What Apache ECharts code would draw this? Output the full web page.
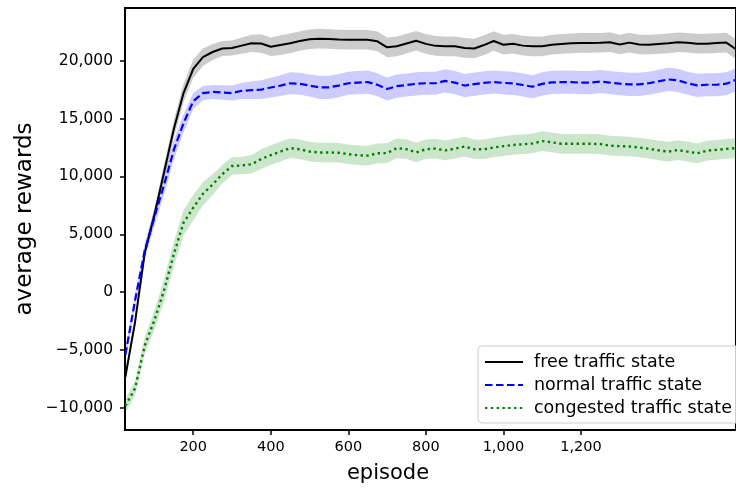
<!DOCTYPE html>
<html>
<head>
<meta charset="utf-8">
<script src="https://cdn.jsdelivr.net/npm/echarts@6/dist/echarts.min.js"></script>
<style>
html, body { margin: 0; padding: 0; background: #fff; }
#chart { width: 736px; height: 488px; }
</style>
</head>
<body>
<div id="chart"></div>
<script>
// episodes (x)
var episodes = [25, 50, 75, 100, 125, 150, 175, 200, 225, 250, 275, 300, 325, 350, 375, 400,
    425, 450, 475, 500, 525, 550, 575, 600, 625, 650, 675, 700, 725, 750, 775, 800,
    825, 850, 875, 900, 925, 950, 975, 1000, 1025, 1050, 1075, 1100, 1125, 1150, 1175, 1200,
    1225, 1250, 1275, 1300, 1325, 1350, 1375, 1400, 1425, 1450, 1475, 1500, 1525, 1550, 1575, 1600];

// average rewards, free traffic state
var freeMean = [-7300, -2570, 3400, 6700, 10400, 14100, 17200, 19300, 20300, 20750, 21050, 21100, 21300, 21500, 21480, 21200,
    21350, 21500, 21700, 21850, 21900, 21870, 21830, 21810, 21810, 21810, 21670, 21150, 21240, 21480, 21720, 21450,
    21280, 21240, 21240, 21100, 21050, 21350, 21700, 21380, 21460, 21300, 21240, 21240, 21380, 21450, 21500, 21530,
    21530, 21550, 21600, 21400, 21560, 21400, 21380, 21440, 21500, 21590, 21550, 21470, 21470, 21520, 21560, 21000];
var freeStd = [300, 350, 450, 550, 650, 750, 800, 800, 750, 700, 650, 650, 700, 750, 800, 800,
    850, 850, 850, 850, 850, 850, 850, 850, 850, 850, 850, 850, 850, 850, 850, 850,
    850, 850, 850, 850, 850, 850, 850, 850, 850, 850, 850, 850, 850, 850, 850, 850,
    850, 850, 850, 850, 850, 850, 850, 850, 850, 850, 850, 850, 850, 850, 850, 850];

// normal traffic state
var normalMean = [-5400, -700, 3600, 6500, 9300, 12300, 14600, 16500, 17200, 17300, 17250, 17200, 17400, 17450, 17500, 17680,
    17850, 18050, 18000, 17850, 17700, 17700, 17850, 18050, 18100, 18150, 17920, 17550, 17800, 17900, 18000, 18050,
    18050, 18250, 18100, 17850, 17980, 18080, 18160, 18080, 18040, 17900, 17750, 18000, 18120, 18150, 18150, 18100,
    18100, 18200, 18100, 18020, 17950, 17950, 18050, 18210, 18380, 18300, 18050, 17870, 17920, 17920, 18010, 18350];
var normalStd = [450, 550, 650, 750, 850, 850, 800, 700, 620, 600, 620, 650, 700, 750, 800, 850,
    900, 950, 950, 950, 1000, 1000, 1000, 1000, 1000, 1000, 1000, 1000, 1000, 1000, 1000, 1000,
    1000, 1000, 1000, 1000, 1000, 1000, 1000, 1000, 1000, 1000, 1000, 1000, 1000, 1000, 1000, 1000,
    1000, 1000, 1000, 1000, 1000, 1000, 1000, 1000, 1000, 1000, 1000, 1000, 1000, 1000, 1000, 1000];

// congested traffic state
var congestedMean = [-9800, -8300, -4600, -2400, 200, 3300, 6000, 7300, 8500, 9300, 10200, 10900, 10950, 11050, 11500, 11850,
    12150, 12450, 12350, 12150, 12070, 12070, 12050, 11920, 11830, 11800, 12000, 12020, 12450, 12350, 12080, 12350,
    12400, 12250, 12400, 12580, 12350, 12350, 12500, 12620, 12720, 12780, 12850, 13050, 12950, 12820, 12820, 12820,
    12820, 12800, 12660, 12620, 12590, 12500, 12390, 12250, 12150, 12280, 12150, 12000, 12230, 12300, 12380, 12450];
var congestedStd = [600, 650, 750, 850, 950, 1050, 1100, 1100, 1000, 900, 800, 750, 750, 800, 850, 850,
    850, 850, 850, 850, 850, 850, 850, 850, 850, 850, 850, 850, 850, 850, 850, 850,
    850, 850, 850, 850, 850, 850, 850, 850, 850, 850, 850, 850, 850, 850, 850, 850,
    850, 850, 850, 850, 850, 850, 850, 850, 850, 850, 850, 850, 850, 850, 850, 850];

// tick labels
var xTicks = [200, 400, 600, 800, 1000, 1200];
var yTicks = [-10000, -5000, 0, 5000, 10000, 15000, 20000];

var chart = echarts.init(document.getElementById('chart'));

function fmt(v) {
    var s = Math.abs(v).toLocaleString('en-US');
    return v < 0 ? '\u2212' + s : s;
}

function pairs(arr) {
    var out = [];
    for (var i = 0; i < episodes.length; i++) out.push([episodes[i], arr[i]]);
    return out;
}

// shaded band (mean +- std) drawn as one polygon
function bandSeries(mean, std, color) {
    var rows = [];
    for (var i = 0; i < mean.length; i++) {
        rows.push([episodes[i], mean[i] - std[i], mean[i] + std[i]]);
    }
    return {
        type: 'custom',
        data: rows,
        silent: true,
        clip: true,
        z: 1,
        encode: { x: 0, y: [1, 2] },
        renderItem: function (params, api) {
            if (params.dataIndex !== 0) return;
            var pts = [];
            for (var i = 0; i < rows.length; i++) pts.push(api.coord([rows[i][0], rows[i][2]]));
            for (var j = rows.length - 1; j >= 0; j--) pts.push(api.coord([rows[j][0], rows[j][1]]));
            return {
                type: 'polygon',
                shape: { points: pts },
                style: { fill: color, stroke: 'none' }
            };
        }
    };
}

var series = [
    bandSeries(freeMean, freeStd, 'rgba(0,0,0,0.2)'),
    bandSeries(normalMean, normalStd, 'rgba(0,0,255,0.2)'),
    bandSeries(congestedMean, congestedStd, 'rgba(0,128,0,0.2)'),
    {
        name: 'free traffic state', type: 'line', data: pairs(freeMean), symbol: 'none', showSymbol: false, z: 3,
        lineStyle: { color: '#000000', width: 2 }, itemStyle: { color: '#000000' }
    }, {
        name: 'normal traffic state', type: 'line', data: pairs(normalMean), symbol: 'none', showSymbol: false, z: 3,
        lineStyle: { color: '#0000ff', width: 2.2, type: [7.5, 3.5] }, itemStyle: { color: '#0000ff' }
    }, {
        name: 'congested traffic state', type: 'line', data: pairs(congestedMean), symbol: 'none', showSymbol: false, z: 3,
        lineStyle: { color: '#008000', width: 2.4, type: [2.4, 3.4] }, itemStyle: { color: '#008000' }
    }
];

var option = {
    animation: false,
    backgroundColor: '#ffffff',
    grid: {
        left: 125, top: 8, bottom: 58, right: -3,
        show: true, borderColor: '#000000', borderWidth: 2
    },
    xAxis: {
        type: 'value', min: 24, max: 1600,
        axisLine: { show: false, onZero: false },
        splitLine: { show: false },
        axisTick: { show: true, length: 5, lineStyle: { color: '#000', width: 1.5 }, customValues: xTicks },
        axisLabel: {
            customValues: xTicks, formatter: fmt, margin: 10,
            fontFamily: 'DejaVu Sans', fontSize: 14.5, color: '#000'
        }
    },
    yAxis: {
        type: 'value', min: -11900, max: 24550,
        axisLine: { show: false, onZero: false },
        splitLine: { show: false },
        axisTick: { show: true, length: 5, lineStyle: { color: '#000', width: 1.5 }, customValues: yTicks },
        axisLabel: {
            customValues: yTicks, formatter: fmt, margin: 12,
            fontFamily: 'DejaVu Sans', fontSize: 15.5, color: '#000'
        }
    },
    legend: {
        data: ['free traffic state', 'normal traffic state', 'congested traffic state'],
        orient: 'vertical',
        left: 478, top: 346,
        itemWidth: 38, itemHeight: 14, itemGap: 5,
        padding: [7, 10, 6, 6],
        itemStyle: { opacity: 0 },
        backgroundColor: 'rgba(255,255,255,0.8)',
        borderColor: '#cccccc', borderWidth: 1, borderRadius: 4,
        textStyle: { fontFamily: 'DejaVu Sans', fontSize: 17.5, color: '#000', padding: [0, 0, 0, 6] }
    },
    graphic: [{
        type: 'text', x: 388, y: 474,
        style: { text: 'episode', fontFamily: 'DejaVu Sans', fontSize: 21, fill: '#000', align: 'center', verticalAlign: 'middle' }
    }, {
        type: 'text', x: 25, y: 219, rotation: Math.PI / 2,
        style: { text: 'average rewards', fontFamily: 'DejaVu Sans', fontSize: 23, fill: '#000', align: 'center', verticalAlign: 'middle' }
    }],
    series: series
};

chart.setOption(option);
</script>
</body>
</html>
